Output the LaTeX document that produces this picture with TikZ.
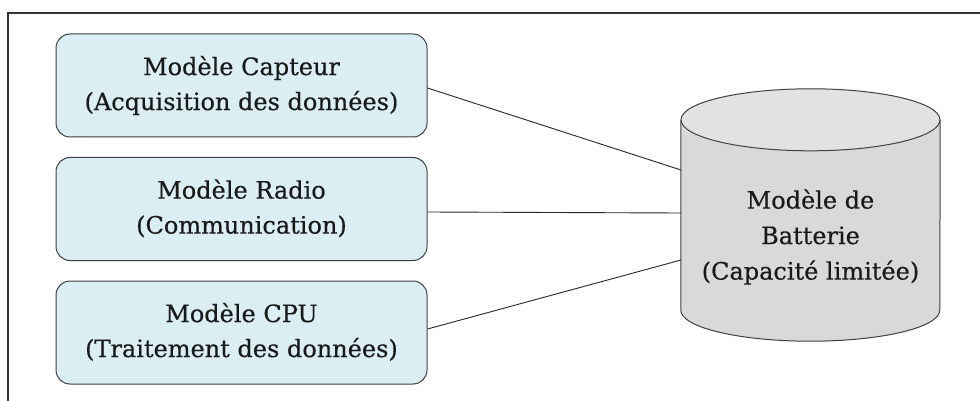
\documentclass[tikz,border=0pt]{standalone}
\usepackage{fontspec}
\setmainfont[FakeBold=0.4]{DejaVu Serif}
\begin{document}
\begin{tikzpicture}[x=1pt,y=-1pt,
  lbl/.style={font=\fontsize{24}{35.5}\selectfont, text=black!90},
  model/.style={lbl, draw=black!75, line width=1pt, rounded corners=14pt, fill=boxblue,
    minimum width=371pt, minimum height=103pt, align=center, inner sep=0pt},
  link/.style={draw=black!85, line width=0.9pt}]
\definecolor{boxblue}{HTML}{DBEEF4}
\definecolor{batbody}{HTML}{D9D9D9}
\definecolor{battop}{HTML}{E2E2E2}
\useasboundingbox (0,0) rectangle (980,401);
% frame
\draw[black!80, line width=1.2pt] (8,401) -- (8,13) -- (980,13);
% component models
\node[model] (capteur) at (241.5,85.5) {\raisebox{-3pt}{\begin{tabular}{@{}c@{}}Modèle Capteur\\[-0.5pt](Acquisition des données)\end{tabular}}};
\node[model] (radio) at (241.5,209) {\raisebox{-3pt}{\begin{tabular}{@{}c@{}}Modèle Radio\\[-0.5pt](Communication)\end{tabular}}};
\node[model] (cpu) at (241.5,332.5) {\raisebox{-3pt}{\begin{tabular}{@{}c@{}}Modèle CPU\\[-0.5pt](Traitement des données)\end{tabular}}};
% battery cylinder
\node[minimum width=259pt, minimum height=190pt, inner sep=0pt] (bat) at (810.5,215) {};
\fill[batbody] (bat.north west) -- (bat.south west)
  arc[start angle=180, end angle=360, x radius=129.5pt, y radius=31pt]
  -- (bat.north east) -- cycle;
\draw[black!75, line width=1pt] (bat.north west) -- (bat.south west)
  arc[start angle=180, end angle=360, x radius=129.5pt, y radius=31pt]
  -- (bat.north east);
\draw[black!75, line width=1pt, fill=battop] (bat.north) ellipse[x radius=129.5pt, y radius=31pt];
\node[lbl, align=center] (battext) at (810.5,237) {Modèle de\\Batterie\\(Capacité limitée)};
% connection points on the battery side
\coordinate (in1) at (681,170);
\coordinate (in2) at (681,213);
\coordinate (in3) at (681,260);
\draw[link] (capteur.east |- 0,88) -- (in1);
\draw[link] (radio.east |- 0,212) -- (in2);
\draw[link] (cpu.east |- 0,329) -- (in3);
\end{tikzpicture}
\end{document}
